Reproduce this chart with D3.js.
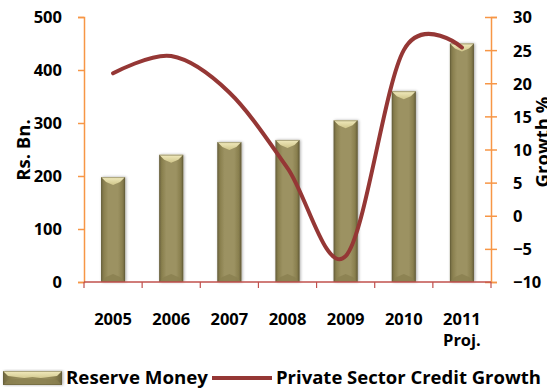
<!DOCTYPE html>
<html>
<head>
<meta charset="utf-8">
<script src="https://cdn.jsdelivr.net/npm/d3@7"></script>
<style>
  html, body { margin: 0; padding: 0; background: #fff; }
  svg { display: block; }
  text { font-family: "Open Sans", "Liberation Sans", sans-serif; font-weight: bold; fill: #000; }
</style>
</head>
<body>
<svg id="chart" width="547" height="391"></svg>
<script>
// Reserve money (Rs. Bn.) and private sector credit growth (%), 2005–2011 (projected)
const years = ["2005", "2006", "2007", "2008", "2009", "2010", "2011"];
const yearSub = ["", "", "", "", "", "", "Proj."];
const reserveMoney = [198, 240, 264, 268, 305, 360, 450];
const creditGrowth = [21.5, 24.1, 18.6, 7.2, -6.1, 25.0, 25.4];
const leftTicks = [0, 100, 200, 300, 400, 500];
const rightTicks = [-10, -5, 0, 5, 10, 15, 20, 25, 30];

const svg = d3.select("#chart");
const plot = { left: 84, right: 491, top: 17, bottom: 282 };
const tickFont = 16.5;

const x = d3.scaleBand()
  .domain(years)
  .range([plot.left, plot.right])
  .paddingInner(0.587)
  .paddingOuter(0.2935);
const cx = d => x(d) + x.bandwidth() / 2;

const yL = d3.scaleLinear().domain([0, 500]).range([plot.bottom, plot.top]);
const yR = d3.scaleLinear().domain([-10, 30]).range([plot.bottom, plot.top]);

const defs = svg.append("defs");
const body = defs.append("linearGradient").attr("id", "barBody").attr("x1", 0).attr("x2", 1).attr("y1", 0).attr("y2", 0);
[[0, "#6e6640"], [0.12, "#8a804f"], [0.3, "#9c9262"], [0.7, "#9c9262"], [0.88, "#8a804f"], [1, "#6a623c"]]
  .forEach(([o, c]) => body.append("stop").attr("offset", o).attr("stop-color", c));
const topG = defs.append("linearGradient").attr("id", "barTop").attr("x1", 0).attr("x2", 0).attr("y1", 0).attr("y2", 1);
[[0, "#f2ebbe"], [1, "#cfc58a"]].forEach(([o, c]) => topG.append("stop").attr("offset", o).attr("stop-color", c));
const shadow = defs.append("filter").attr("id", "shadow").attr("x", "-50%").attr("y", "-10%").attr("width", "200%").attr("height", "120%");
shadow.append("feGaussianBlur").attr("in", "SourceAlpha").attr("stdDeviation", 1.6).attr("result", "b");
shadow.append("feOffset").attr("in", "b").attr("dx", 1).attr("dy", 0).attr("result", "o");
shadow.append("feComponentTransfer").attr("in", "o").attr("result", "s")
  .append("feFuncA").attr("type", "linear").attr("slope", 0.35);
const merge = shadow.append("feMerge");
merge.append("feMergeNode").attr("in", "s");
merge.append("feMergeNode").attr("in", "SourceGraphic");

// Bevelled bars
function drawBevelBar(g, x0, y0, w, h) {
  const b = Math.min(5, w / 4, h / 2.5);
  g.append("rect").attr("x", x0).attr("y", y0).attr("width", w).attr("height", h)
    .attr("fill", "url(#barBody)").attr("filter", "url(#shadow)");
  // top bevel (lighter)
  g.append("polygon")
    .attr("points", [[x0, y0], [x0 + w, y0], [x0 + w - b, y0 + b], [x0 + w / 2, y0 + b + 3], [x0 + b, y0 + b]].map(p => p.join(",")).join(" "))
    .attr("fill", "url(#barTop)");
  // bottom bevel (slightly darker)
  g.append("polygon")
    .attr("points", [[x0, y0 + h], [x0 + w, y0 + h], [x0 + w - b, y0 + h - b], [x0 + w / 2, y0 + h - b - 3], [x0 + b, y0 + h - b]].map(p => p.join(",")).join(" "))
    .attr("fill", "#8a7f50").attr("opacity", 0.8);
  g.append("rect").attr("x", x0 + 0.5).attr("y", y0 + 0.5).attr("width", w - 1).attr("height", h - 1)
    .attr("fill", "none").attr("stroke", "#5f5836").attr("stroke-opacity", 0.45);
}

const barsG = svg.append("g");
years.forEach((yr, i) => {
  const g = barsG.append("g");
  drawBevelBar(g, x(yr), yL(reserveMoney[i]), x.bandwidth(), yL(0) - yL(reserveMoney[i]));
});

function styleTickText(sel) {
  sel.attr("font-size", tickFont).attr("dy", "0.36em").attr("fill", "#000")
    .style("font-family", "'Open Sans', sans-serif").style("font-weight", "bold");
}

// Left axis
const axisL = svg.append("g").attr("transform", `translate(${plot.left},0)`)
  .call(d3.axisLeft(yL).tickValues(leftTicks).tickSize(6).tickPadding(16));
axisL.select(".domain").attr("stroke", "#f79646").attr("stroke-width", 1.5);
axisL.selectAll(".tick line").attr("stroke", "#f79646").attr("stroke-width", 1.5);
styleTickText(axisL.selectAll(".tick text"));

// Right axis with crossing ticks
const axisR = svg.append("g").attr("transform", `translate(${plot.right},0)`)
  .call(d3.axisRight(yR).tickValues(rightTicks).tickSize(6).tickPadding(16));
axisR.select(".domain").attr("stroke", "#f79646").attr("stroke-width", 1.5);
axisR.selectAll(".tick line").attr("x1", -6).attr("stroke", "#f79646").attr("stroke-width", 1.5);
styleTickText(axisR.selectAll(".tick text"));

// Category axis
const xAxisG = svg.append("g");
xAxisG.append("line").attr("x1", plot.left).attr("x2", plot.right)
  .attr("y1", plot.bottom).attr("y2", plot.bottom)
  .attr("stroke", "#c0504d").attr("stroke-width", 1.5);
const bounds = years.map(d => x(d) - x.step() * x.paddingInner() / 2).concat([plot.right]);
bounds[0] = plot.left;
xAxisG.selectAll("line.tk").data(bounds).join("line").attr("class", "tk")
  .attr("x1", d => d).attr("x2", d => d).attr("y1", plot.bottom).attr("y2", plot.bottom + 6)
  .attr("stroke", "#c0504d").attr("stroke-width", 1.2);
xAxisG.selectAll("text.yr").data(years).join("text").attr("class", "yr")
  .attr("x", d => cx(d)).attr("y", 325).attr("text-anchor", "middle").attr("font-size", tickFont)
  .text(d => d);
xAxisG.selectAll("text.sub").data(years.map((d, i) => ({ d, s: yearSub[i] })).filter(o => o.s))
  .join("text").attr("class", "sub")
  .attr("x", o => cx(o.d)).attr("y", 346).attr("text-anchor", "middle").attr("font-size", tickFont)
  .text(o => o.s);

// Credit growth line
const line = d3.line()
  .x((d, i) => cx(years[i]))
  .y(d => yR(d))
  .curve(d3.curveCardinal.tension(0));
svg.append("path").datum(creditGrowth).attr("d", line)
  .attr("fill", "none").attr("stroke", "#953735").attr("stroke-width", 4)
  .attr("stroke-linecap", "round");

// Axis titles
svg.append("text").attr("transform", "translate(30,150) rotate(-90)")
  .attr("text-anchor", "middle").attr("font-size", 18.5).text("Rs. Bn.");
svg.append("text").attr("transform", "translate(549,142) rotate(-90)")
  .attr("text-anchor", "middle").attr("font-size", 18.5).text("Growth %");

// Legend
const lg = svg.append("g");
const lgY = 378;
drawBevelBar(lg, 3, lgY - 7, 59, 14);
lg.append("text").attr("x", 66).attr("y", lgY).attr("dy", "0.36em").attr("font-size", 18)
  .attr("textLength", 142).attr("lengthAdjust", "spacingAndGlyphs").text("Reserve Money");
lg.append("line").attr("x1", 212).attr("x2", 272).attr("y1", lgY).attr("y2", lgY)
  .attr("stroke", "#953735").attr("stroke-width", 4);
lg.append("text").attr("x", 276).attr("y", lgY).attr("dy", "0.36em").attr("font-size", 18)
  .attr("textLength", 265).attr("lengthAdjust", "spacingAndGlyphs").text("Private Sector Credit Growth");
</script>
</body>
</html>
